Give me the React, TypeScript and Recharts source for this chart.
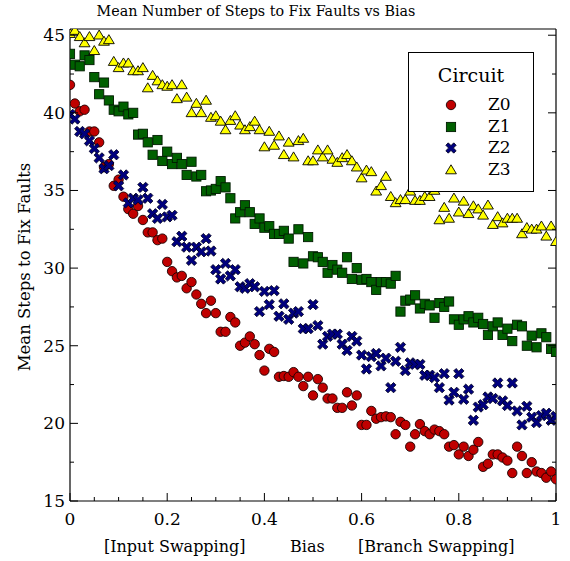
import React from "react";
import { ScatterChart, Scatter, XAxis, YAxis } from "recharts";

// bias (x) values, one per measured point
const bias = [
  0, 0.01, 0.02, 0.03, 0.04, 0.05, 0.06, 0.07, 0.08, 0.09,
  0.1, 0.11, 0.12, 0.13, 0.14, 0.15, 0.16, 0.17, 0.18, 0.19,
  0.2, 0.21, 0.22, 0.23, 0.24, 0.25, 0.26, 0.27, 0.28, 0.29,
  0.3, 0.31, 0.32, 0.33, 0.34, 0.35, 0.36, 0.37, 0.38, 0.39,
  0.4, 0.41, 0.42, 0.43, 0.44, 0.45, 0.46, 0.47, 0.48, 0.49,
  0.5, 0.51, 0.52, 0.53, 0.54, 0.55, 0.56, 0.57, 0.58, 0.59,
  0.6, 0.61, 0.62, 0.63, 0.64, 0.65, 0.66, 0.67, 0.68, 0.69,
  0.7, 0.71, 0.72, 0.73, 0.74, 0.75, 0.76, 0.77, 0.78, 0.79,
  0.8, 0.81, 0.82, 0.83, 0.84, 0.85, 0.86, 0.87, 0.88, 0.89,
  0.9, 0.91, 0.92, 0.93, 0.94, 0.95, 0.96, 0.97, 0.98, 0.99,
  1,
];

const z0 = [
  41.8, 40.6, 40.1, 40.2, 38.8, 38.8, 38.1, 36.5, 36.7, 35.3,
  35.7, 34.6, 33.8, 33.5, 34.0, 33.1, 32.3, 32.3, 31.8, 31.9,
  30.4, 29.8, 29.4, 29.5, 28.7, 29.1, 28.3, 27.7, 27.1, 27.9,
  27.1, 25.9, 25.9, 26.85, 26.5, 25.0, 25.2, 25.6, 25.1, 24.4,
  23.4, 24.8, 24.6, 23.0, 23.05, 23.0, 23.3, 23.0, 22.4, 23.0,
  21.8, 22.85, 22.3, 21.6, 21.6, 21.0, 21.0, 22.0, 21.15, 21.8,
  19.9, 19.9, 20.8, 20.3, 20.4, 20.45, 20.4, 19.3, 20.1, 19.9,
  18.5, 19.3, 19.95, 19.5, 19.3, 19.6, 19.5, 19.3, 18.5, 18.6,
  18.0, 18.5, 17.9, 18.3, 18.8, 17.2, 17.4, 18.0, 18.0, 17.8,
  17.6, 16.8, 18.5, 17.9, 16.8, 17.5, 16.9, 16.8, 16.5, 16.9,
  16.4,
];

const z1 = [
  43.8, 43.1, 43.0, 43.7, 43.4, 42.3, 41.2, 41.95, 40.8, 40.2,
  40.1, 40.4, 39.9, 40.0, 38.6, 38.65, 38.1, 37.3, 38.25, 36.9,
  37.5, 36.7, 37.1, 36.7, 36.0, 36.85, 35.9, 36.0, 34.95, 35.0,
  35.1, 35.6, 35.2, 34.5, 33.2, 33.6, 34.05, 33.6, 32.85, 33.2,
  32.6, 32.7, 32.2, 32.2, 32.4, 31.9, 30.4, 32.5, 30.3, 32.0,
  30.76, 30.7, 30.4, 29.7, 30.2, 29.9, 29.7, 30.7, 29.3, 30.0,
  29.25, 29.3, 29.1, 28.6, 29.1, 29.1, 29.0, 29.5, 27.2, 27.9,
  27.97, 28.25, 27.4, 27.7, 27.6, 26.8, 27.75, 27.5, 27.85, 26.7,
  26.35, 26.7, 26.9, 26.5, 26.8, 26.4, 25.7, 26.25, 26.5, 25.7,
  26.1, 25.3, 26.35, 26.25, 25.0, 25.65, 24.9, 25.8, 25.55, 24.8,
  24.6,
];

const z2 = [
  39.9, 39.6, 38.8, 38.65, 38.2, 37.7, 37.1, 36.4, 36.6, 37.3,
  35.3, 36.0, 34.2, 34.5, 34.4, 35.2, 34.5, 33.5, 33.2, 34.1,
  33.3, 33.4, 31.7, 32.05, 31.35, 30.5, 31.35, 31.05, 31.9, 31.1,
  29.9, 29.3, 30.3, 29.5, 29.9, 28.8, 28.7, 29.0, 28.8, 27.2,
  28.5, 27.65, 28.55, 26.9, 27.7, 26.7, 27.1, 27.2, 26.1, 26.1,
  27.65, 26.3, 25.1, 25.6, 25.75, 25.75, 25.1, 24.7, 25.6, 25.3,
  24.4, 23.5, 24.3, 24.5, 23.7, 24.2, 22.3, 24.0, 24.9, 23.4,
  23.9, 23.8, 23.8, 23.1, 23.1, 22.95, 22.3, 23.2, 21.5, 22.0,
  23.2, 21.55, 22.2, 20.2, 21.05, 21.2, 21.7, 21.6, 22.6, 21.45,
  21.15, 22.6, 20.8, 19.9, 21.1, 20.4, 20.05, 20.5, 20.65, 20.2,
  20.45,
];

const z3 = [
  45.1, 45.3, 44.9, 44.5, 44.9, 44.0, 45.0, 44.6, 44.7, 43.3,
  42.9, 43.2, 43.2, 42.7, 42.7, 42.9, 41.6, 42.4, 42.05, 41.8,
  41.7, 41.8, 40.9, 41.8, 41.0, 40.0, 40.6, 40.0, 40.8, 39.7,
  39.8, 39.45, 38.9, 39.5, 39.8, 39.2, 38.9, 39.1, 39.45, 38.9,
  37.8, 38.8, 37.9, 38.5, 37.3, 38.1, 37.15, 38.2, 38.35, 36.9,
  36.9, 37.6, 37.15, 37.6, 37.0, 36.8, 37.1, 37.3, 36.9, 36.5,
  35.8, 36.3, 36.2, 34.95, 35.3, 35.9, 34.6, 34.2, 34.4, 34.4,
  34.95, 34.35, 34.35, 34.6, 34.6, 35.0, 33.1, 33.9, 33.2, 34.5,
  33.6, 34.3, 33.5, 34.0, 33.8, 33.4, 34.05, 32.8, 33.3, 32.9,
  33.2, 33.2, 33.2, 32.2, 32.6, 32.5, 32.5, 32.7, 32.05, 32.7,
  31.7,
];

const seriesNames = ["Z0", "Z1", "Z2", "Z3"];
const seriesValues = [z0, z1, z2, z3];
const seriesColors = ["#c00000", "#006000", "#00007f", "#ffff00"];

const xTicks = [
  0, 0.05, 0.1, 0.15, 0.2, 0.25, 0.3, 0.35, 0.4, 0.45, 0.5,
  0.55, 0.6, 0.65, 0.7, 0.75, 0.8, 0.85, 0.9, 0.95, 1,
];
const xMajor = [0, 0.2, 0.4, 0.6, 0.8, 1];
const yTicks = [15, 17.5, 20, 22.5, 25, 27.5, 30, 32.5, 35, 37.5, 40, 42.5, 45];
const yMajor = [15, 20, 25, 30, 35, 40, 45];

const FONT = "'DejaVu Serif', serif";

const Marker = ({ kind, cx, cy, fill }: { kind: number; cx: number; cy: number; fill: string }) => {
  if (cx == null || cy == null) return null;
  if (kind === 0) {
    return <circle cx={cx} cy={cy} r={4.7} fill={fill} stroke="#1a0000" strokeWidth={0.9} />;
  }
  if (kind === 1) {
    return <rect x={cx - 4.6} y={cy - 4.6} width={9.2} height={9.2} fill={fill} stroke="#001a00" strokeWidth={0.9} />;
  }
  if (kind === 2) {
    const a = 5.6;
    const w = 1.7;
    const pts = [
      [w, a], [w, w], [a, w], [a, -w], [w, -w], [w, -a],
      [-w, -a], [-w, -w], [-a, -w], [-a, w], [-w, w], [-w, a],
    ].map((p) => p.join(",")).join(" ");
    return (
      <polygon
        points={pts}
        transform={`translate(${cx},${cy}) rotate(45)`}
        fill={fill}
        stroke="#000020"
        strokeWidth={0.8}
      />
    );
  }
  return (
    <polygon
      points={`${cx},${cy - 5.2} ${cx + 5.4},${cy + 3.8} ${cx - 5.4},${cy + 3.8}`}
      fill={fill}
      stroke="#000"
      strokeWidth={0.9}
    />
  );
};

const BottomTick = (props: any) => {
  const { x, y, payload } = props;
  const major = xMajor.includes(payload.value);
  return (
    <g>
      <line x1={x} y1={y} x2={x} y2={y - (major ? 8 : 4)} stroke="#000" strokeWidth={1} />
      {major && (
        <text x={x} y={y + 24} textAnchor="middle" fontSize={17} fontFamily={FONT} fill="#000">
          {String(payload.value)}
        </text>
      )}
    </g>
  );
};

const TopTick = (props: any) => {
  const { x, y, payload } = props;
  const major = xMajor.includes(payload.value);
  return <line x1={x} y1={y} x2={x} y2={y + (major ? 8 : 4)} stroke="#000" strokeWidth={1} />;
};

const LeftTick = (props: any) => {
  const { x, y, payload } = props;
  const major = yMajor.includes(payload.value);
  return (
    <g>
      <line x1={x} y1={y} x2={x + (major ? 8 : 4)} y2={y} stroke="#000" strokeWidth={1} />
      {major && (
        <text x={x - 5} y={y} dy="0.35em" textAnchor="end" fontSize={17} fontFamily={FONT} fill="#000">
          {String(payload.value)}
        </text>
      )}
    </g>
  );
};

const RightTick = (props: any) => {
  const { x, y, payload } = props;
  const major = yMajor.includes(payload.value);
  return <line x1={x} y1={y} x2={x - (major ? 8 : 4)} y2={y} stroke="#000" strokeWidth={1} />;
};

export default function App() {
  const datasets = seriesValues.map((vals) => bias.map((x, i) => ({ x, y: vals[i] })));

  return (
    <div
      style={{
        position: "absolute",
        left: 0,
        top: 0,
        width: 570,
        height: 561,
        background: "#fff",
        fontFamily: FONT,
      }}
    >
      <div
        style={{
          position: "absolute",
          left: 0,
          width: 512,
          top: 3,
          textAlign: "center",
          fontSize: 14.3,
          color: "#000",
        }}
      >
        Mean Number of Steps to Fix Faults vs Bias
      </div>

      <ScatterChart width={570} height={561} margin={{ top: 0, right: 0, bottom: 0, left: 0 }}>
        <XAxis
          xAxisId="bottom"
          dataKey="x"
          type="number"
          domain={[0, 1]}
          ticks={xTicks}
          interval={0}
          allowDataOverflow
          height={60}
          tickSize={0}
          tickMargin={0}
          tickLine={false}
          axisLine={{ stroke: "#000", strokeWidth: 1.2 }}
          tick={<BottomTick />}
        />
        <XAxis
          xAxisId="top"
          orientation="top"
          type="number"
          domain={[0, 1]}
          ticks={xTicks}
          interval={0}
          allowDataOverflow
          height={29}
          tickSize={0}
          tickMargin={0}
          tickLine={false}
          axisLine={{ stroke: "#000", strokeWidth: 1.2 }}
          tick={<TopTick />}
        />
        <YAxis
          yAxisId="left"
          dataKey="y"
          type="number"
          domain={[15, 45.4]}
          ticks={yTicks}
          interval={0}
          allowDataOverflow
          width={70}
          tickSize={0}
          tickMargin={0}
          tickLine={false}
          axisLine={{ stroke: "#000", strokeWidth: 1.2 }}
          tick={<LeftTick />}
        />
        <YAxis
          yAxisId="right"
          orientation="right"
          type="number"
          domain={[15, 45.4]}
          ticks={yTicks}
          interval={0}
          allowDataOverflow
          width={14}
          tickSize={0}
          tickMargin={0}
          tickLine={false}
          axisLine={{ stroke: "#000", strokeWidth: 1.2 }}
          tick={<RightTick />}
        />
        {datasets.map((data, k) => (
          <Scatter
            key={seriesNames[k]}
            name={seriesNames[k]}
            data={data}
            xAxisId="bottom"
            yAxisId="left"
            isAnimationActive={false}
            shape={(p: any) => <Marker kind={k} cx={p.cx} cy={p.cy} fill={seriesColors[k]} />}
          />
        ))}
      </ScatterChart>

      {/* y axis title */}
      <div
        style={{
          position: "absolute",
          left: 24,
          top: 267,
          transform: "translate(-50%, -50%) rotate(-90deg)",
          whiteSpace: "nowrap",
          fontSize: 16.5,
          color: "#000",
        }}
      >
        Mean Steps to Fix Faults
      </div>

      {/* x axis title */}
      <div style={{ position: "absolute", top: 537, left: 0, width: 570, fontSize: 16, color: "#000" }}>
        <span style={{ position: "absolute", left: 104 }}>[Input Swapping]</span>
        <span style={{ position: "absolute", left: 290 }}>Bias</span>
        <span style={{ position: "absolute", left: 358 }}>[Branch Swapping]</span>
      </div>

      {/* legend */}
      <div
        style={{
          position: "absolute",
          left: 408,
          top: 52,
          width: 124,
          height: 138,
          border: "1px solid #000",
          background: "#fff",
        }}
      >
        <div style={{ position: "absolute", top: 11, width: "100%", textAlign: "center", fontSize: 19 }}>
          Circuit
        </div>
        {seriesNames.map((name, k) => (
          <div key={name} style={{ position: "absolute", top: 41 + k * 21.7, left: 0, width: "100%", height: 22 }}>
            <svg width={20} height={20} style={{ position: "absolute", left: 32, top: 1 }}>
              <Marker kind={k} cx={10} cy={10} fill={seriesColors[k]} />
            </svg>
            <span style={{ position: "absolute", left: 79, top: 0, fontSize: 17 }}>{name}</span>
          </div>
        ))}
      </div>
    </div>
  );
}
